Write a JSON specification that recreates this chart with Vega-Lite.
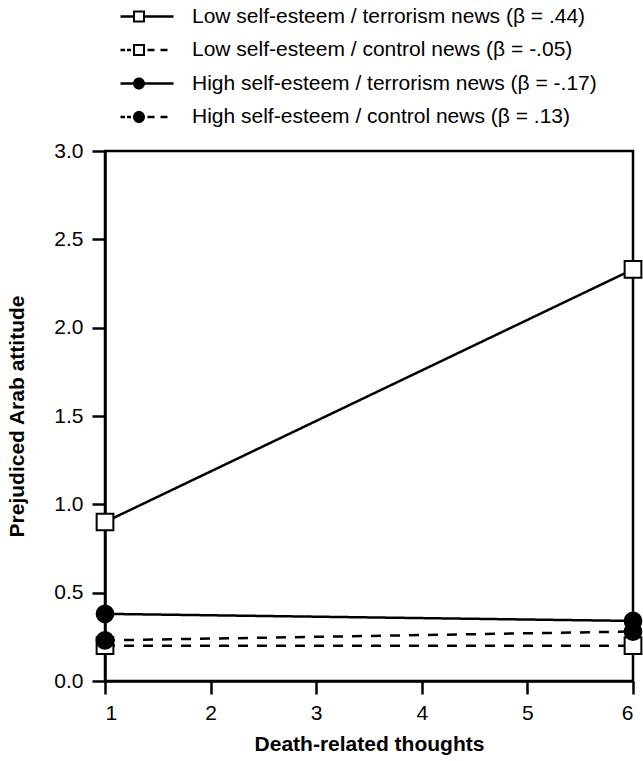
{
  "$schema": "https://vega.github.io/schema/vega-lite/v6.json",
  "width": 528,
  "height": 530,
  "autosize": "none",
  "padding": {"left": 105, "top": 151, "right": 10, "bottom": 80},
  "background": "white",
  "config": {
    "font": "Liberation Sans",
    "view": {"stroke": "black", "strokeWidth": 2.5},
    "axis": {
      "domainColor": "black", "domainWidth": 2.5, "tickColor": "black", "tickWidth": 2.5, "tickSize": 13,
      "labelFont": "Liberation Sans", "labelFontSize": 21, "labelColor": "black", "labelPadding": 8,
      "titleFont": "Liberation Sans", "titleFontSize": 21, "titleFontWeight": "bold", "titleColor": "black", "grid": false
    }
  },
  "data": {"values": [
    {"series": "Low self-esteem / terrorism news (β = .44)", "x": 1, "y": 0.90},
    {"series": "Low self-esteem / terrorism news (β = .44)", "x": 6, "y": 2.33},
    {"series": "Low self-esteem / control news (β = -.05)", "x": 1, "y": 0.20},
    {"series": "Low self-esteem / control news (β = -.05)", "x": 6, "y": 0.20},
    {"series": "High self-esteem / terrorism news (β = -.17)", "x": 1, "y": 0.38},
    {"series": "High self-esteem / terrorism news (β = -.17)", "x": 6, "y": 0.34},
    {"series": "High self-esteem / control news (β = .13)", "x": 1, "y": 0.23},
    {"series": "High self-esteem / control news (β = .13)", "x": 6, "y": 0.28}
  ]},
  "encoding": {
    "x": {"field": "x", "type": "quantitative", "scale": {"domain": [1, 6], "nice": false, "zero": false},
      "axis": {"title": "Death-related thoughts", "values": [1, 2, 3, 4, 5, 6], "titlePadding": 10, "labelFontSize": 21, "titleFontSize": 21}},
    "y": {"field": "y", "type": "quantitative", "scale": {"domain": [0, 3], "nice": false},
      "axis": {"title": "Prejudiced Arab attitude", "values": [0, 0.5, 1, 1.5, 2, 2.5, 3], "format": ".1f", "titlePadding": 26, "labelPadding": 9, "labelFontSize": 21, "titleFontSize": 21}}
  },
  "layer": [
    {
      "mark": {"type": "line", "color": "black", "strokeWidth": 2.5},
      "encoding": {
        "detail": {"field": "series"},
        "strokeDash": {"field": "series", "type": "nominal",
          "scale": {"domain": ["Low self-esteem / terrorism news (β = .44)", "Low self-esteem / control news (β = -.05)", "High self-esteem / terrorism news (β = -.17)", "High self-esteem / control news (β = .13)"],
            "range": [[1, 0], [10, 9], [1, 0], [10, 9]]}, "legend": null}
      }
    },
    {
      "mark": {"type": "point", "filled": true, "stroke": "black", "strokeWidth": 2, "size": 280, "opacity": 1, "clip": false},
      "encoding": {
        "shape": {"field": "series", "type": "nominal",
          "scale": {"domain": ["Low self-esteem / terrorism news (β = .44)", "Low self-esteem / control news (β = -.05)", "High self-esteem / terrorism news (β = -.17)", "High self-esteem / control news (β = .13)"],
            "range": ["square", "square", "circle", "circle"]}, "legend": null},
        "fill": {"field": "series", "type": "nominal",
          "scale": {"domain": ["Low self-esteem / terrorism news (β = .44)", "Low self-esteem / control news (β = -.05)", "High self-esteem / terrorism news (β = -.17)", "High self-esteem / control news (β = .13)"],
            "range": ["white", "white", "black", "black"]}, "legend": null}
      }
    },
    {
      "transform": [{"filter": "datum.x > 100"}],
      "mark": {"type": "point", "filled": true, "size": 400, "opacity": 1},
      "encoding": {
        "shape": {"field": "series", "type": "nominal",
          "scale": {"domain": ["Low self-esteem / terrorism news (β = .44)", "Low self-esteem / control news (β = -.05)", "High self-esteem / terrorism news (β = -.17)", "High self-esteem / control news (β = .13)"],
            "range": [
              "M-2.8,-0.12L-1.55,-0.12L-1.55,0.12L-2.8,0.12ZM-0.35,-0.12L2.5,-0.12L2.5,0.12L-0.35,0.12ZM-1.55,-0.6L-0.35,-0.6L-0.35,0.6L-1.55,0.6ZM-1.35,-0.4L-1.35,0.4L-0.55,0.4L-0.55,-0.4Z",
              "M-2.8,-0.12L-2.35,-0.12L-2.35,0.12L-2.8,0.12ZM-2.15,-0.12L-1.75,-0.12L-1.75,0.12L-2.15,0.12ZM-0.1,-0.12L0.6,-0.12L0.6,0.12L-0.1,0.12ZM1.2,-0.12L1.9,-0.12L1.9,0.12L1.2,0.12ZM-1.55,-0.6L-0.35,-0.6L-0.35,0.6L-1.55,0.6ZM-1.35,-0.4L-1.35,0.4L-0.55,0.4L-0.55,-0.4Z",
              "M-2.8,-0.12L2.5,-0.12L2.5,0.12L-2.8,0.12ZM-1.55,0A0.6,0.6 0 1,1 -0.35,0A0.6,0.6 0 1,1 -1.55,0Z",
              "M-2.8,-0.12L-2.35,-0.12L-2.35,0.12L-2.8,0.12ZM-2.15,-0.12L-1.75,-0.12L-1.75,0.12L-2.15,0.12ZM-0.1,-0.12L0.6,-0.12L0.6,0.12L-0.1,0.12ZM1.2,-0.12L1.9,-0.12L1.9,0.12L1.2,0.12ZM-1.55,0A0.6,0.6 0 1,1 -0.35,0A0.6,0.6 0 1,1 -1.55,0Z"
            ]},
          "legend": {"orient": "none", "legendX": 33, "legendY": -145, "title": null, "direction": "vertical", "padding": 0,
            "labelFontSize": 21, "labelColor": "black", "labelFont": "Liberation Sans", "labelOffset": 33, "labelLimit": 0,
            "symbolSize": 400, "symbolStrokeWidth": 0, "symbolOpacity": 1, "symbolFillColor": "black", "rowPadding": 11.5,
            "encode": {"symbols": {"update": {"opacity": {"value": 1}, "fillOpacity": {"value": 1}}}}}
        },
        "fill": {"field": "series", "type": "nominal",
          "scale": {"domain": ["Low self-esteem / terrorism news (β = .44)", "Low self-esteem / control news (β = -.05)", "High self-esteem / terrorism news (β = -.17)", "High self-esteem / control news (β = .13)"],
            "range": ["black", "black", "black", "black"]}}
      }
    }
  ],
  "resolve": {"scale": {"shape": "independent", "fill": "independent"}}
}
